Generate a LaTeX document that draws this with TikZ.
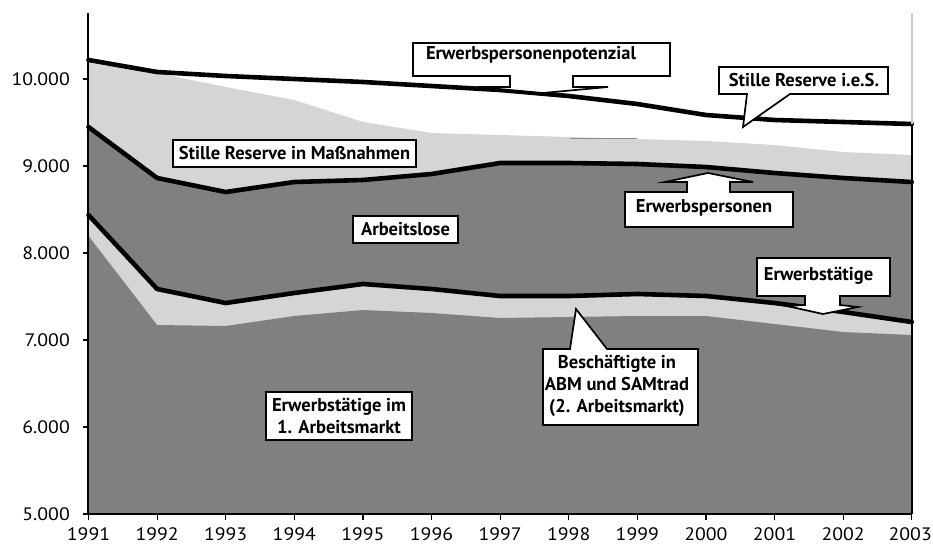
\documentclass[tikz,border=0pt]{standalone}
\usepackage{fontspec}
\setmainfont{PT Sans}
\newfontfamily\lblfam{PT Sans}
\newfontfamily\axfam[FakeStretch=1.1]{PT Sans}
\newcommand{\lblfont}{\lblfam\bfseries\fontsize{18.5}{22}\selectfont}
\newcommand{\axfont}{\axfam\fontsize{18}{20}\selectfont}
\definecolor{darkfill}{RGB}{128,128,128}
\definecolor{lightfill}{RGB}{213,213,213}
\definecolor{bordergray}{RGB}{205,205,205}
\definecolor{seamgray}{RGB}{140,140,140}
\begin{document}
\begin{tikzpicture}[x=1pt,y=-1pt,
  dataline/.style={line width=4.6pt, line join=round, line cap=round},
  callout/.style={draw, line width=1.7pt, fill=white, line join=miter},
  lblbox/.style={draw, line width=1.7pt, fill=white, inner sep=0pt, font=\lblfont, align=center},
  lbltext/.style={inner sep=0pt, font=\lblfont, align=center},
  axlbl/.style={inner sep=0pt, font=\axfont},
  axisline/.style={line width=1.5pt},
  tickmark/.style={line width=1.2pt}]
\useasboundingbox (0,0) rectangle (933,545);
\fill[white] (0,0) rectangle (933,545);

% ---- areas ----
\fill[lightfill] (88.5,514) -- (88.5,63) -- (157.1,73) -- (225.7,87) -- (294.3,100) -- (362.9,122) -- (431.5,133) -- (500.1,135) -- (568.7,137) -- (637.3,139) -- (705.9,141) -- (774.5,145) -- (843.1,152) -- (911.7,155) -- (911.7,514) -- cycle;
\fill[darkfill] (88.5,514) -- (88.5,127) -- (157.1,178) -- (225.7,192) -- (294.3,182) -- (362.9,180) -- (431.5,174) -- (500.1,163) -- (568.7,163) -- (637.3,164) -- (705.9,167) -- (774.5,173) -- (843.1,178) -- (911.7,182) -- (911.7,514) -- cycle;
\fill[lightfill] (88.5,514) -- (88.5,215) -- (157.1,289) -- (225.7,303) -- (294.3,293) -- (362.9,284) -- (431.5,289) -- (500.1,296) -- (568.7,296) -- (637.3,294) -- (705.9,296) -- (774.5,303) -- (843.1,312) -- (911.7,322) -- (911.7,514) -- cycle;
\fill[darkfill] (88.5,514) -- (88.5,236) -- (157.1,325) -- (225.7,326) -- (294.3,316) -- (362.9,310) -- (431.5,313) -- (500.1,318) -- (568.7,317) -- (637.3,316) -- (705.9,316) -- (774.5,324) -- (843.1,332) -- (911.7,335) -- (911.7,514) -- cycle;
\draw[seamgray, line width=1pt] (570,139) -- (637,139);

% ---- lines ----
\draw[dataline] (88.5,60) -- (157.1,72) -- (225.7,76) -- (294.3,79) -- (362.9,82) -- (431.5,86) -- (500.1,90) -- (568.7,96) -- (637.3,104) -- (705.9,115) -- (774.5,120) -- (843.1,122) -- (911.7,124);
\draw[dataline] (88.5,127) -- (157.1,178) -- (225.7,192) -- (294.3,182) -- (362.9,180) -- (431.5,174) -- (500.1,163) -- (568.7,163) -- (637.3,164) -- (705.9,167) -- (774.5,173) -- (843.1,178) -- (911.7,182);
\draw[dataline] (88.5,215) -- (157.1,289) -- (225.7,303) -- (294.3,293) -- (362.9,284) -- (431.5,289) -- (500.1,296) -- (568.7,296) -- (637.3,294) -- (705.9,296) -- (774.5,303) -- (843.1,312) -- (911.7,322);

% ---- axes ----
\draw[bordergray, line width=1.5pt] (912,13) -- (912,124);
\draw[axisline] (912,124) -- (912,514);
\draw[axisline] (88,13) -- (88,514) -- (912,514);
\foreach \v/\lab in {0/5.000,1/6.000,2/7.000,3/8.000,4/9.000,5/10.000}{
  \draw[tickmark] (83,{514-87*\v}) -- (88,{514-87*\v});
  \node[axlbl, anchor=east] (y\v) at (70,{514-87*\v}) {\lab};
}
\foreach \i in {0,...,12}{
  \draw[tickmark] ({88.5+68.6*\i},514) -- ({88.5+68.6*\i},520);
}
\foreach \i in {0,...,11}{
  \pgfmathtruncatemacro{\yr}{1991+\i}
  \node[axlbl, anchor=base] (x\i) at ({88.5+68.6*\i},540) {\yr};
}
\node[axlbl, anchor=base east] (x12) at (932,540) {2003};

% ---- callouts ----
\draw[callout] (413,43) -- (670,43) -- (670,76) -- (573,76) -- (573,87) -- (608,87) -- (543,93) -- (477,87) -- (510,87) -- (510,76) -- (413,76) -- cycle;
\node[lbltext, anchor=base] (pot) at (531,60) {Erwerbspersonenpotenzial};

\draw[callout] (719,67) -- (888,67) -- (888,94) -- (790,94) -- (743,127) -- (747,94) -- (719,94) -- cycle;
\node[lbltext, anchor=base] (sres) at (804,87) {Stille Reserve i.e.S.};

\draw[callout] (625,192) -- (687,192) -- (687,182) -- (665,182) -- (708,173) -- (753,182) -- (730,182) -- (730,192) -- (793,192) -- (793,227) -- (625,227) -- cycle;
\node[lbltext, anchor=base] (ep) at (704,213) {Erwerbspersonen};

\draw[callout] (757,258) -- (890,258) -- (890,296) -- (840,296) -- (840,305) -- (858,307) -- (823,314) -- (787,306) -- (805,305) -- (805,296) -- (757,296) -- cycle;
\node[lbltext, anchor=base] (et) at (818.5,280) {Erwerbstätige};

\draw[callout] (543,349) -- (570,349) -- (576,309) -- (607,349) -- (698,349) -- (698,425) -- (543,425) -- cycle;
\node[lbltext] (abm) at (617,386) {Beschäftigte in\\ABM und SAMtrad\\(2. Arbeitsmarkt)};

\node[lblbox, minimum width=243pt, minimum height=27pt] (srm) at (294.5,153.5) {Stille Reserve in Maßnahmen};
\node[lblbox, minimum width=105pt, minimum height=27pt] (al) at (405.5,229.5) {Arbeitslose};
\node[lblbox, minimum width=146pt, minimum height=48pt] (et1) at (339,416) {Erwerbstätige im\\1. Arbeitsmarkt};
\end{tikzpicture}
\end{document}
